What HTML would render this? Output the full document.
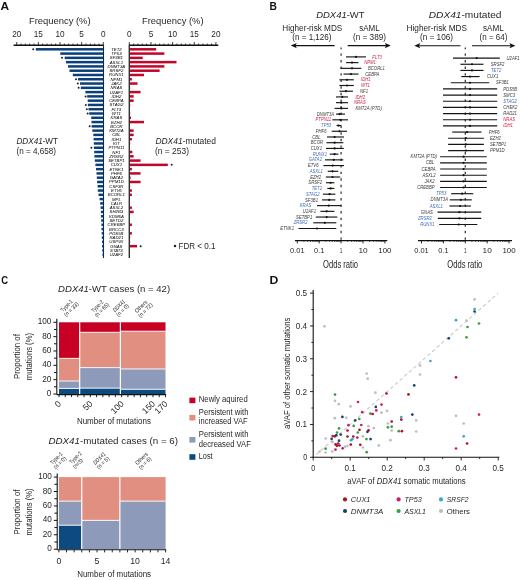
<!DOCTYPE html>
<html><head><meta charset="utf-8"><title>Figure</title>
<style>
html,body{margin:0;padding:0;background:#fff;}
svg{display:block;will-change:transform;}
text{font-family:"Liberation Sans",sans-serif;}
</style></head><body>
<svg width="520" height="580" viewBox="0 0 520 580">
<rect x="0" y="0" width="520" height="580" fill="#fff"/>
<text x="0.40" y="10.30" font-size="11.0" fill="#111" font-weight="bold" textLength="8.60" lengthAdjust="spacingAndGlyphs">A</text>
<text x="29.00" y="24.30" font-size="9.7" fill="#231f20" textLength="61.60" lengthAdjust="spacingAndGlyphs">Frequency (%)</text>
<text x="142.00" y="24.30" font-size="9.7" fill="#231f20" textLength="61.60" lengthAdjust="spacingAndGlyphs">Frequency (%)</text>
<text x="16.70" y="37.40" font-size="8.2" text-anchor="middle" fill="#231f20">20</text>
<text x="38.35" y="37.40" font-size="8.2" text-anchor="middle" fill="#231f20">15</text>
<text x="60.00" y="37.40" font-size="8.2" text-anchor="middle" fill="#231f20">10</text>
<text x="81.65" y="37.40" font-size="8.2" text-anchor="middle" fill="#231f20">5</text>
<text x="103.30" y="37.40" font-size="8.2" text-anchor="middle" fill="#231f20">0</text>
<text x="129.30" y="37.40" font-size="8.2" text-anchor="middle" fill="#231f20">0</text>
<text x="150.95" y="37.40" font-size="8.2" text-anchor="middle" fill="#231f20">5</text>
<text x="172.60" y="37.40" font-size="8.2" text-anchor="middle" fill="#231f20">10</text>
<text x="194.25" y="37.40" font-size="8.2" text-anchor="middle" fill="#231f20">15</text>
<text x="215.90" y="37.40" font-size="8.2" text-anchor="middle" fill="#231f20">20</text>
<line x1="13.60" y1="45.20" x2="103.70" y2="45.20" stroke="#111" stroke-width="1.4" />
<line x1="128.90" y1="45.20" x2="218.30" y2="45.20" stroke="#111" stroke-width="1.4" />
<line x1="103.30" y1="45.20" x2="103.30" y2="42.00" stroke="#111" stroke-width="0.8" />
<line x1="129.30" y1="45.20" x2="129.30" y2="42.00" stroke="#111" stroke-width="0.8" />
<line x1="98.97" y1="45.20" x2="98.97" y2="43.50" stroke="#111" stroke-width="0.8" />
<line x1="133.63" y1="45.20" x2="133.63" y2="43.50" stroke="#111" stroke-width="0.8" />
<line x1="94.64" y1="45.20" x2="94.64" y2="43.50" stroke="#111" stroke-width="0.8" />
<line x1="137.96" y1="45.20" x2="137.96" y2="43.50" stroke="#111" stroke-width="0.8" />
<line x1="90.31" y1="45.20" x2="90.31" y2="43.50" stroke="#111" stroke-width="0.8" />
<line x1="142.29" y1="45.20" x2="142.29" y2="43.50" stroke="#111" stroke-width="0.8" />
<line x1="85.98" y1="45.20" x2="85.98" y2="43.50" stroke="#111" stroke-width="0.8" />
<line x1="146.62" y1="45.20" x2="146.62" y2="43.50" stroke="#111" stroke-width="0.8" />
<line x1="81.65" y1="45.20" x2="81.65" y2="42.00" stroke="#111" stroke-width="0.8" />
<line x1="150.95" y1="45.20" x2="150.95" y2="42.00" stroke="#111" stroke-width="0.8" />
<line x1="77.32" y1="45.20" x2="77.32" y2="43.50" stroke="#111" stroke-width="0.8" />
<line x1="155.28" y1="45.20" x2="155.28" y2="43.50" stroke="#111" stroke-width="0.8" />
<line x1="72.99" y1="45.20" x2="72.99" y2="43.50" stroke="#111" stroke-width="0.8" />
<line x1="159.61" y1="45.20" x2="159.61" y2="43.50" stroke="#111" stroke-width="0.8" />
<line x1="68.66" y1="45.20" x2="68.66" y2="43.50" stroke="#111" stroke-width="0.8" />
<line x1="163.94" y1="45.20" x2="163.94" y2="43.50" stroke="#111" stroke-width="0.8" />
<line x1="64.33" y1="45.20" x2="64.33" y2="43.50" stroke="#111" stroke-width="0.8" />
<line x1="168.27" y1="45.20" x2="168.27" y2="43.50" stroke="#111" stroke-width="0.8" />
<line x1="60.00" y1="45.20" x2="60.00" y2="42.00" stroke="#111" stroke-width="0.8" />
<line x1="172.60" y1="45.20" x2="172.60" y2="42.00" stroke="#111" stroke-width="0.8" />
<line x1="55.67" y1="45.20" x2="55.67" y2="43.50" stroke="#111" stroke-width="0.8" />
<line x1="176.93" y1="45.20" x2="176.93" y2="43.50" stroke="#111" stroke-width="0.8" />
<line x1="51.34" y1="45.20" x2="51.34" y2="43.50" stroke="#111" stroke-width="0.8" />
<line x1="181.26" y1="45.20" x2="181.26" y2="43.50" stroke="#111" stroke-width="0.8" />
<line x1="47.01" y1="45.20" x2="47.01" y2="43.50" stroke="#111" stroke-width="0.8" />
<line x1="185.59" y1="45.20" x2="185.59" y2="43.50" stroke="#111" stroke-width="0.8" />
<line x1="42.68" y1="45.20" x2="42.68" y2="43.50" stroke="#111" stroke-width="0.8" />
<line x1="189.92" y1="45.20" x2="189.92" y2="43.50" stroke="#111" stroke-width="0.8" />
<line x1="38.35" y1="45.20" x2="38.35" y2="42.00" stroke="#111" stroke-width="0.8" />
<line x1="194.25" y1="45.20" x2="194.25" y2="42.00" stroke="#111" stroke-width="0.8" />
<line x1="34.02" y1="45.20" x2="34.02" y2="43.50" stroke="#111" stroke-width="0.8" />
<line x1="198.58" y1="45.20" x2="198.58" y2="43.50" stroke="#111" stroke-width="0.8" />
<line x1="29.69" y1="45.20" x2="29.69" y2="43.50" stroke="#111" stroke-width="0.8" />
<line x1="202.91" y1="45.20" x2="202.91" y2="43.50" stroke="#111" stroke-width="0.8" />
<line x1="25.36" y1="45.20" x2="25.36" y2="43.50" stroke="#111" stroke-width="0.8" />
<line x1="207.24" y1="45.20" x2="207.24" y2="43.50" stroke="#111" stroke-width="0.8" />
<line x1="21.03" y1="45.20" x2="21.03" y2="43.50" stroke="#111" stroke-width="0.8" />
<line x1="211.57" y1="45.20" x2="211.57" y2="43.50" stroke="#111" stroke-width="0.8" />
<line x1="16.70" y1="45.20" x2="16.70" y2="42.00" stroke="#111" stroke-width="0.8" />
<line x1="215.90" y1="45.20" x2="215.90" y2="42.00" stroke="#111" stroke-width="0.8" />
<rect x="35.80" y="48.05" width="67.50" height="2.50" fill="#0b3f7c"/>
<rect x="129.30" y="48.05" width="26.85" height="2.50" fill="#c1062c"/>
<text x="116.40" y="50.80" font-size="4.3" text-anchor="middle" font-style="italic">TET2</text>
<circle cx="33.20" cy="49.30" r="1.0" fill="#222"/>
<rect x="60.30" y="52.33" width="43.00" height="2.50" fill="#0b3f7c"/>
<rect x="129.30" y="52.33" width="35.07" height="2.50" fill="#c1062c"/>
<text x="116.40" y="55.08" font-size="4.3" text-anchor="middle" font-style="italic">TP53</text>
<rect x="64.70" y="56.61" width="38.60" height="2.50" fill="#0b3f7c"/>
<rect x="129.30" y="56.61" width="13.42" height="2.50" fill="#c1062c"/>
<text x="116.40" y="59.36" font-size="4.3" text-anchor="middle" font-style="italic">SF3B1</text>
<circle cx="62.00" cy="57.86" r="1.0" fill="#222"/>
<rect x="66.00" y="60.89" width="37.30" height="2.50" fill="#0b3f7c"/>
<rect x="129.30" y="60.89" width="47.20" height="2.50" fill="#c1062c"/>
<text x="116.40" y="63.64" font-size="4.3" text-anchor="middle" font-style="italic">ASXL1</text>
<rect x="68.00" y="65.17" width="35.30" height="2.50" fill="#0b3f7c"/>
<rect x="129.30" y="65.17" width="35.07" height="2.50" fill="#c1062c"/>
<text x="116.40" y="67.92" font-size="4.3" text-anchor="middle" font-style="italic">DNMT3A</text>
<rect x="69.50" y="69.45" width="33.80" height="2.50" fill="#0b3f7c"/>
<rect x="129.30" y="69.45" width="30.31" height="2.50" fill="#c1062c"/>
<text x="116.40" y="72.20" font-size="4.3" text-anchor="middle" font-style="italic">SRSF2</text>
<rect x="72.80" y="73.73" width="30.50" height="2.50" fill="#0b3f7c"/>
<rect x="129.30" y="73.73" width="14.72" height="2.50" fill="#c1062c"/>
<text x="116.40" y="76.48" font-size="4.3" text-anchor="middle" font-style="italic">RUNX1</text>
<rect x="78.00" y="78.01" width="25.30" height="2.50" fill="#0b3f7c"/>
<rect x="129.30" y="78.01" width="2.60" height="2.50" fill="#c1062c"/>
<text x="116.40" y="80.76" font-size="4.3" text-anchor="middle" font-style="italic">NPM1</text>
<circle cx="76.00" cy="79.26" r="1.0" fill="#222"/>
<rect x="80.00" y="82.29" width="23.30" height="2.50" fill="#0b3f7c"/>
<rect x="129.30" y="82.29" width="8.23" height="2.50" fill="#c1062c"/>
<text x="116.40" y="85.04" font-size="4.3" text-anchor="middle" font-style="italic">JAK2</text>
<circle cx="77.80" cy="83.54" r="1.0" fill="#222"/>
<rect x="80.80" y="86.57" width="22.50" height="2.50" fill="#0b3f7c"/>
<rect x="129.30" y="86.57" width="0.87" height="2.50" fill="#c1062c"/>
<text x="116.40" y="89.32" font-size="4.3" text-anchor="middle" font-style="italic">NRAS</text>
<circle cx="78.60" cy="87.82" r="1.0" fill="#222"/>
<rect x="85.40" y="90.85" width="17.90" height="2.50" fill="#0b3f7c"/>
<rect x="129.30" y="90.85" width="11.26" height="2.50" fill="#c1062c"/>
<text x="116.40" y="93.60" font-size="4.3" text-anchor="middle" font-style="italic">U2AF1</text>
<rect x="87.20" y="95.13" width="16.10" height="2.50" fill="#0b3f7c"/>
<rect x="129.30" y="95.13" width="4.33" height="2.50" fill="#c1062c"/>
<text x="116.40" y="97.88" font-size="4.3" text-anchor="middle" font-style="italic">IDH2</text>
<circle cx="85.60" cy="96.38" r="1.0" fill="#222"/>
<rect x="87.70" y="99.41" width="15.60" height="2.50" fill="#0b3f7c"/>
<rect x="129.30" y="99.41" width="4.33" height="2.50" fill="#c1062c"/>
<text x="116.40" y="102.16" font-size="4.3" text-anchor="middle" font-style="italic">CEBPA</text>
<rect x="87.90" y="103.69" width="15.40" height="2.50" fill="#0b3f7c"/>
<rect x="129.30" y="103.69" width="0.87" height="2.50" fill="#c1062c"/>
<text x="116.40" y="106.44" font-size="4.3" text-anchor="middle" font-style="italic">STAG2</text>
<circle cx="85.80" cy="104.94" r="1.0" fill="#222"/>
<rect x="88.50" y="107.97" width="14.80" height="2.50" fill="#0b3f7c"/>
<text x="116.40" y="110.72" font-size="4.3" text-anchor="middle" font-style="italic">FLT3</text>
<circle cx="86.80" cy="109.22" r="1.0" fill="#222"/>
<rect x="89.20" y="112.25" width="14.10" height="2.50" fill="#0b3f7c"/>
<rect x="129.30" y="112.25" width="0.87" height="2.50" fill="#c1062c"/>
<text x="116.40" y="115.00" font-size="4.3" text-anchor="middle" font-style="italic">WT1</text>
<circle cx="87.60" cy="113.50" r="1.0" fill="#222"/>
<rect x="91.20" y="116.53" width="12.10" height="2.50" fill="#0b3f7c"/>
<rect x="129.30" y="116.53" width="1.73" height="2.50" fill="#c1062c"/>
<text x="116.40" y="119.28" font-size="4.3" text-anchor="middle" font-style="italic">KRAS</text>
<rect x="91.50" y="120.81" width="11.80" height="2.50" fill="#0b3f7c"/>
<rect x="129.30" y="120.81" width="14.72" height="2.50" fill="#c1062c"/>
<text x="116.40" y="123.56" font-size="4.3" text-anchor="middle" font-style="italic">EZH2</text>
<rect x="91.60" y="125.09" width="11.70" height="2.50" fill="#0b3f7c"/>
<rect x="129.30" y="125.09" width="0.43" height="2.50" fill="#c1062c"/>
<text x="116.40" y="127.84" font-size="4.3" text-anchor="middle" font-style="italic">BCOR</text>
<circle cx="89.60" cy="126.34" r="1.0" fill="#222"/>
<rect x="92.30" y="129.37" width="11.00" height="2.50" fill="#0b3f7c"/>
<rect x="129.30" y="129.37" width="4.33" height="2.50" fill="#c1062c"/>
<text x="116.40" y="132.12" font-size="4.3" text-anchor="middle" font-style="italic">KMT2A</text>
<rect x="93.30" y="133.65" width="10.00" height="2.50" fill="#0b3f7c"/>
<rect x="129.30" y="133.65" width="4.33" height="2.50" fill="#c1062c"/>
<text x="116.40" y="136.40" font-size="4.3" text-anchor="middle" font-style="italic">CBL</text>
<rect x="93.60" y="137.93" width="9.70" height="2.50" fill="#0b3f7c"/>
<rect x="129.30" y="137.93" width="2.60" height="2.50" fill="#c1062c"/>
<text x="116.40" y="140.68" font-size="4.3" text-anchor="middle" font-style="italic">IDH1</text>
<rect x="93.80" y="142.21" width="9.50" height="2.50" fill="#0b3f7c"/>
<rect x="129.30" y="142.21" width="0.87" height="2.50" fill="#c1062c"/>
<text x="116.40" y="144.96" font-size="4.3" text-anchor="middle" font-style="italic">KIT</text>
<rect x="93.90" y="146.49" width="9.40" height="2.50" fill="#0b3f7c"/>
<text x="116.40" y="149.24" font-size="4.3" text-anchor="middle" font-style="italic">PTPN11</text>
<circle cx="91.40" cy="147.74" r="1.0" fill="#222"/>
<rect x="94.20" y="150.77" width="9.10" height="2.50" fill="#0b3f7c"/>
<rect x="129.30" y="150.77" width="3.03" height="2.50" fill="#c1062c"/>
<text x="116.40" y="153.52" font-size="4.3" text-anchor="middle" font-style="italic">NF1</text>
<rect x="94.40" y="155.05" width="8.90" height="2.50" fill="#0b3f7c"/>
<rect x="129.30" y="155.05" width="4.33" height="2.50" fill="#c1062c"/>
<text x="116.40" y="157.80" font-size="4.3" text-anchor="middle" font-style="italic">ZRSR2</text>
<rect x="94.80" y="159.33" width="8.50" height="2.50" fill="#0b3f7c"/>
<rect x="129.30" y="159.33" width="11.26" height="2.50" fill="#c1062c"/>
<text x="116.40" y="162.08" font-size="4.3" text-anchor="middle" font-style="italic">SETBP1</text>
<rect x="95.40" y="163.61" width="7.90" height="2.50" fill="#0b3f7c"/>
<rect x="129.30" y="163.61" width="38.54" height="2.50" fill="#c1062c"/>
<text x="116.40" y="166.36" font-size="4.3" text-anchor="middle" font-style="italic">CUX1</text>
<circle cx="171.70" cy="164.86" r="1.0" fill="#222"/>
<rect x="96.00" y="167.89" width="7.30" height="2.50" fill="#0b3f7c"/>
<rect x="129.30" y="167.89" width="2.60" height="2.50" fill="#c1062c"/>
<text x="116.40" y="170.64" font-size="4.3" text-anchor="middle" font-style="italic">ETNK1</text>
<rect x="96.50" y="172.17" width="6.80" height="2.50" fill="#0b3f7c"/>
<rect x="129.30" y="172.17" width="11.26" height="2.50" fill="#c1062c"/>
<text x="116.40" y="174.92" font-size="4.3" text-anchor="middle" font-style="italic">PHF6</text>
<rect x="96.80" y="176.45" width="6.50" height="2.50" fill="#0b3f7c"/>
<rect x="129.30" y="176.45" width="1.30" height="2.50" fill="#c1062c"/>
<text x="116.40" y="179.20" font-size="4.3" text-anchor="middle" font-style="italic">GATA2</text>
<rect x="97.10" y="180.73" width="6.20" height="2.50" fill="#0b3f7c"/>
<rect x="129.30" y="180.73" width="11.26" height="2.50" fill="#c1062c"/>
<text x="116.40" y="183.48" font-size="4.3" text-anchor="middle" font-style="italic">PPM1D</text>
<rect x="97.60" y="185.01" width="5.70" height="2.50" fill="#0b3f7c"/>
<rect x="129.30" y="185.01" width="0.87" height="2.50" fill="#c1062c"/>
<text x="116.40" y="187.76" font-size="4.3" text-anchor="middle" font-style="italic">CSF3R</text>
<rect x="97.80" y="189.29" width="5.50" height="2.50" fill="#0b3f7c"/>
<rect x="129.30" y="189.29" width="2.60" height="2.50" fill="#c1062c"/>
<text x="116.40" y="192.04" font-size="4.3" text-anchor="middle" font-style="italic">ETV6</text>
<rect x="98.50" y="193.57" width="4.80" height="2.50" fill="#0b3f7c"/>
<rect x="129.30" y="193.57" width="2.60" height="2.50" fill="#c1062c"/>
<text x="116.40" y="196.32" font-size="4.3" text-anchor="middle" font-style="italic">BCORL1</text>
<rect x="99.60" y="197.85" width="3.70" height="2.50" fill="#0b3f7c"/>
<text x="116.40" y="200.60" font-size="4.3" text-anchor="middle" font-style="italic">MPL</text>
<rect x="100.20" y="202.13" width="3.10" height="2.50" fill="#0b3f7c"/>
<text x="116.40" y="204.88" font-size="4.3" text-anchor="middle" font-style="italic">CALR</text>
<rect x="100.60" y="206.41" width="2.70" height="2.50" fill="#0b3f7c"/>
<rect x="129.30" y="206.41" width="2.60" height="2.50" fill="#c1062c"/>
<text x="116.40" y="209.16" font-size="4.3" text-anchor="middle" font-style="italic">ASXL2</text>
<rect x="100.90" y="210.69" width="2.40" height="2.50" fill="#0b3f7c"/>
<rect x="129.30" y="210.69" width="4.33" height="2.50" fill="#c1062c"/>
<text x="116.40" y="213.44" font-size="4.3" text-anchor="middle" font-style="italic">SH2B3</text>
<rect x="100.90" y="214.97" width="2.40" height="2.50" fill="#0b3f7c"/>
<text x="116.40" y="217.72" font-size="4.3" text-anchor="middle" font-style="italic">KDM6A</text>
<rect x="101.20" y="219.25" width="2.10" height="2.50" fill="#0b3f7c"/>
<text x="116.40" y="222.00" font-size="4.3" text-anchor="middle" font-style="italic">SETD2</text>
<rect x="101.40" y="223.53" width="1.90" height="2.50" fill="#0b3f7c"/>
<rect x="129.30" y="223.53" width="2.60" height="2.50" fill="#c1062c"/>
<text x="116.40" y="226.28" font-size="4.3" text-anchor="middle" font-style="italic">CREBBP</text>
<rect x="101.50" y="227.81" width="1.80" height="2.50" fill="#0b3f7c"/>
<text x="116.40" y="230.56" font-size="4.3" text-anchor="middle" font-style="italic">BRCC3</text>
<rect x="101.70" y="232.09" width="1.60" height="2.50" fill="#0b3f7c"/>
<rect x="129.30" y="232.09" width="2.60" height="2.50" fill="#c1062c"/>
<text x="116.40" y="234.84" font-size="4.3" text-anchor="middle" font-style="italic">PDS5B</text>
<rect x="101.80" y="236.37" width="1.50" height="2.50" fill="#0b3f7c"/>
<rect x="129.30" y="236.37" width="0.87" height="2.50" fill="#c1062c"/>
<text x="116.40" y="239.12" font-size="4.3" text-anchor="middle" font-style="italic">RAD21</text>
<rect x="102.00" y="240.65" width="1.30" height="2.50" fill="#0b3f7c"/>
<rect x="129.30" y="240.65" width="0.87" height="2.50" fill="#c1062c"/>
<text x="116.40" y="243.40" font-size="4.3" text-anchor="middle" font-style="italic">USP9X</text>
<rect x="102.10" y="244.93" width="1.20" height="2.50" fill="#0b3f7c"/>
<rect x="129.30" y="244.93" width="7.79" height="2.50" fill="#c1062c"/>
<text x="116.40" y="247.68" font-size="4.3" text-anchor="middle" font-style="italic">GNAS</text>
<circle cx="140.70" cy="246.18" r="1.0" fill="#222"/>
<rect x="102.30" y="249.21" width="1.00" height="2.50" fill="#0b3f7c"/>
<text x="116.40" y="251.96" font-size="4.3" text-anchor="middle" font-style="italic">STAT3</text>
<rect x="102.50" y="253.49" width="0.80" height="2.50" fill="#0b3f7c"/>
<text x="116.40" y="256.24" font-size="4.3" text-anchor="middle" font-style="italic">U2AF2</text>
<line x1="103.50" y1="45.20" x2="103.50" y2="258.00" stroke="#0a2a50" stroke-width="1.1" />
<line x1="129.30" y1="45.20" x2="129.30" y2="258.00" stroke="#333" stroke-width="1.4" />
<text x="16.50" y="143.70" font-size="9.0" fill="#231f20" textLength="41.50" lengthAdjust="spacingAndGlyphs"><tspan font-style="italic">DDX41</tspan>-WT</text>
<text x="16.50" y="153.60" font-size="9.0" fill="#231f20" textLength="39.50" lengthAdjust="spacingAndGlyphs">(n = 4,658)</text>
<text x="155.40" y="143.80" font-size="9.0" fill="#231f20" textLength="60.60" lengthAdjust="spacingAndGlyphs"><tspan font-style="italic">DDX41</tspan>-mutated</text>
<text x="155.00" y="153.80" font-size="9.0" fill="#231f20" textLength="34.00" lengthAdjust="spacingAndGlyphs">(n = 253)</text>
<circle cx="175.00" cy="246.00" r="1.25" fill="#222"/>
<text x="178.50" y="249.00" font-size="9.0" fill="#231f20" textLength="37.00" lengthAdjust="spacingAndGlyphs">FDR &lt; 0.1</text>
<text x="269.60" y="10.30" font-size="11.0" fill="#111" font-weight="bold" textLength="7.40" lengthAdjust="spacingAndGlyphs">B</text>
<text x="316.20" y="17.80" font-size="8.8" fill="#231f20" textLength="48.40" lengthAdjust="spacingAndGlyphs"><tspan font-style="italic">DDX41</tspan>-WT</text>
<text x="282.30" y="30.90" font-size="8.5" fill="#231f20" textLength="60.00" lengthAdjust="spacingAndGlyphs">Higher-risk MDS</text>
<text x="292.30" y="40.40" font-size="8.5" fill="#231f20" textLength="39.20" lengthAdjust="spacingAndGlyphs">(n = 1,126)</text>
<text x="359.20" y="30.90" font-size="8.5" fill="#231f20" textLength="20.50" lengthAdjust="spacingAndGlyphs">sAML</text>
<text x="353.00" y="40.40" font-size="8.5" fill="#231f20" textLength="33.00" lengthAdjust="spacingAndGlyphs">(n = 389)</text>
<line x1="334.60" y1="45.60" x2="294.30" y2="45.60" stroke="#111" stroke-width="1.1" />
<path d="M290.80,45.60 L296.80,43.00 L295.40,45.60 L296.80,48.20 Z" fill="#111"/>
<line x1="347.70" y1="45.60" x2="387.30" y2="45.60" stroke="#111" stroke-width="1.1" />
<path d="M390.80,45.60 L384.80,43.00 L386.20,45.60 L384.80,48.20 Z" fill="#111"/>
<text x="428.80" y="18.00" font-size="8.8" fill="#231f20" textLength="72.70" lengthAdjust="spacingAndGlyphs"><tspan font-style="italic">DDX41</tspan>-mutated</text>
<text x="406.50" y="30.90" font-size="8.5" fill="#231f20" textLength="60.50" lengthAdjust="spacingAndGlyphs">Higher-risk MDS</text>
<text x="420.00" y="40.40" font-size="8.5" fill="#231f20" textLength="33.00" lengthAdjust="spacingAndGlyphs">(n = 106)</text>
<text x="483.00" y="30.90" font-size="8.5" fill="#231f20" textLength="20.80" lengthAdjust="spacingAndGlyphs">sAML</text>
<text x="479.60" y="40.40" font-size="8.5" fill="#231f20" textLength="27.70" lengthAdjust="spacingAndGlyphs">(n = 64)</text>
<line x1="460.50" y1="45.70" x2="417.80" y2="45.70" stroke="#111" stroke-width="1.1" />
<path d="M414.30,45.70 L420.30,43.10 L418.90,45.70 L420.30,48.30 Z" fill="#111"/>
<line x1="472.00" y1="45.70" x2="511.90" y2="45.70" stroke="#111" stroke-width="1.1" />
<path d="M515.40,45.70 L509.40,43.10 L510.80,45.70 L509.40,48.30 Z" fill="#111"/>
<line x1="341.10" y1="47.50" x2="341.10" y2="240.50" stroke="#3a3a3a" stroke-width="1.3" stroke-dasharray="2.4 4.17" stroke-dashoffset="0.63"/>
<line x1="346.00" y1="56.90" x2="366.00" y2="56.90" stroke="#151515" stroke-width="1.15" />
<circle cx="356.00" cy="56.90" r="1.1" fill="#111"/>
<text x="372.30" y="58.50" font-size="4.6" fill="#d0203f" font-style="italic" textLength="9.56" lengthAdjust="spacingAndGlyphs">FLT3</text>
<line x1="346.10" y1="62.62" x2="358.50" y2="62.62" stroke="#151515" stroke-width="1.15" />
<circle cx="352.00" cy="62.62" r="1.1" fill="#111"/>
<text x="364.20" y="64.22" font-size="4.6" fill="#d0203f" font-style="italic" textLength="11.76" lengthAdjust="spacingAndGlyphs">NPM1</text>
<line x1="340.60" y1="68.34" x2="361.30" y2="68.34" stroke="#151515" stroke-width="1.15" />
<circle cx="352.00" cy="68.34" r="1.1" fill="#111"/>
<text x="368.00" y="69.94" font-size="4.6" fill="#3a3a3a" font-style="italic" textLength="16.93" lengthAdjust="spacingAndGlyphs">BCORL1</text>
<line x1="343.50" y1="74.06" x2="358.50" y2="74.06" stroke="#151515" stroke-width="1.15" />
<circle cx="351.00" cy="74.06" r="1.1" fill="#111"/>
<text x="365.30" y="75.66" font-size="4.6" fill="#3a3a3a" font-style="italic" textLength="14.03" lengthAdjust="spacingAndGlyphs">CEBPA</text>
<line x1="339.40" y1="79.78" x2="353.80" y2="79.78" stroke="#151515" stroke-width="1.15" />
<circle cx="347.00" cy="79.78" r="1.1" fill="#111"/>
<text x="361.00" y="81.38" font-size="4.6" fill="#d0203f" font-style="italic" textLength="9.64" lengthAdjust="spacingAndGlyphs">IDH1</text>
<line x1="339.40" y1="85.50" x2="353.80" y2="85.50" stroke="#151515" stroke-width="1.15" />
<circle cx="347.00" cy="85.50" r="1.1" fill="#111"/>
<text x="361.00" y="87.10" font-size="4.6" fill="#d0203f" font-style="italic" textLength="8.93" lengthAdjust="spacingAndGlyphs">WT1</text>
<line x1="339.40" y1="91.22" x2="352.90" y2="91.22" stroke="#151515" stroke-width="1.15" />
<circle cx="346.00" cy="91.22" r="1.1" fill="#111"/>
<text x="360.00" y="92.82" font-size="4.6" fill="#3a3a3a" font-style="italic" textLength="7.99" lengthAdjust="spacingAndGlyphs">NF1</text>
<line x1="336.00" y1="96.94" x2="348.00" y2="96.94" stroke="#151515" stroke-width="1.15" />
<circle cx="342.30" cy="96.94" r="1.1" fill="#111"/>
<text x="355.40" y="98.54" font-size="4.6" fill="#d0203f" font-style="italic" textLength="9.64" lengthAdjust="spacingAndGlyphs">IDH2</text>
<line x1="336.00" y1="102.66" x2="348.00" y2="102.66" stroke="#151515" stroke-width="1.15" />
<circle cx="341.30" cy="102.66" r="1.1" fill="#111"/>
<text x="354.00" y="104.26" font-size="4.6" fill="#d0203f" font-style="italic" textLength="11.76" lengthAdjust="spacingAndGlyphs">NRAS</text>
<line x1="334.60" y1="108.38" x2="348.00" y2="108.38" stroke="#151515" stroke-width="1.15" />
<circle cx="341.30" cy="108.38" r="1.1" fill="#111"/>
<text x="355.40" y="109.98" font-size="4.6" fill="#3a3a3a" font-style="italic" textLength="26.41" lengthAdjust="spacingAndGlyphs">KMT2A (PTD)</text>
<line x1="336.00" y1="114.10" x2="345.00" y2="114.10" stroke="#151515" stroke-width="1.15" />
<circle cx="339.40" cy="114.10" r="1.1" fill="#111"/>
<text x="334.20" y="115.70" font-size="4.6" text-anchor="end" fill="#3a3a3a" font-style="italic" textLength="17.40" lengthAdjust="spacingAndGlyphs">DNMT3A</text>
<line x1="332.30" y1="119.82" x2="348.00" y2="119.82" stroke="#151515" stroke-width="1.15" />
<circle cx="340.40" cy="119.82" r="1.1" fill="#111"/>
<text x="331.20" y="121.42" font-size="4.6" text-anchor="end" fill="#d0203f" font-style="italic" textLength="15.68" lengthAdjust="spacingAndGlyphs">PTPN11</text>
<line x1="336.50" y1="125.54" x2="341.30" y2="125.54" stroke="#151515" stroke-width="1.15" />
<circle cx="338.50" cy="125.54" r="1.1" fill="#111"/>
<text x="331.20" y="127.14" font-size="4.6" text-anchor="end" fill="#3e6fb3" font-style="italic" textLength="10.11" lengthAdjust="spacingAndGlyphs">TP53</text>
<line x1="331.70" y1="131.26" x2="347.00" y2="131.26" stroke="#151515" stroke-width="1.15" />
<circle cx="339.40" cy="131.26" r="1.1" fill="#111"/>
<text x="326.50" y="132.86" font-size="4.6" text-anchor="end" fill="#3a3a3a" font-style="italic" textLength="10.82" lengthAdjust="spacingAndGlyphs">PHF6</text>
<line x1="327.00" y1="136.98" x2="344.00" y2="136.98" stroke="#151515" stroke-width="1.15" />
<circle cx="334.60" cy="136.98" r="1.1" fill="#111"/>
<text x="320.50" y="138.58" font-size="4.6" text-anchor="end" fill="#3a3a3a" font-style="italic" textLength="8.23" lengthAdjust="spacingAndGlyphs">CBL</text>
<line x1="326.50" y1="142.70" x2="343.30" y2="142.70" stroke="#151515" stroke-width="1.15" />
<circle cx="334.60" cy="142.70" r="1.1" fill="#111"/>
<text x="323.00" y="144.30" font-size="4.6" text-anchor="end" fill="#3a3a3a" font-style="italic" textLength="12.23" lengthAdjust="spacingAndGlyphs">BCOR</text>
<line x1="326.00" y1="148.42" x2="343.80" y2="148.42" stroke="#151515" stroke-width="1.15" />
<circle cx="334.60" cy="148.42" r="1.1" fill="#111"/>
<text x="322.00" y="150.02" font-size="4.6" text-anchor="end" fill="#3a3a3a" font-style="italic" textLength="11.29" lengthAdjust="spacingAndGlyphs">CUX1</text>
<line x1="329.80" y1="154.14" x2="338.50" y2="154.14" stroke="#151515" stroke-width="1.15" />
<circle cx="334.60" cy="154.14" r="1.1" fill="#111"/>
<text x="327.00" y="155.74" font-size="4.6" text-anchor="end" fill="#3e6fb3" font-style="italic" textLength="14.35" lengthAdjust="spacingAndGlyphs">RUNX1</text>
<line x1="325.00" y1="159.86" x2="343.30" y2="159.86" stroke="#151515" stroke-width="1.15" />
<circle cx="333.70" cy="159.86" r="1.1" fill="#111"/>
<text x="322.00" y="161.46" font-size="4.6" text-anchor="end" fill="#3e6fb3" font-style="italic" textLength="13.25" lengthAdjust="spacingAndGlyphs">GATA2</text>
<line x1="323.50" y1="165.58" x2="344.00" y2="165.58" stroke="#151515" stroke-width="1.15" />
<circle cx="332.70" cy="165.58" r="1.1" fill="#111"/>
<text x="318.50" y="167.18" font-size="4.6" text-anchor="end" fill="#3a3a3a" font-style="italic" textLength="10.58" lengthAdjust="spacingAndGlyphs">ETV6</text>
<line x1="327.70" y1="171.30" x2="338.30" y2="171.30" stroke="#151515" stroke-width="1.15" />
<circle cx="332.50" cy="171.30" r="1.1" fill="#111"/>
<text x="322.90" y="172.90" font-size="4.6" text-anchor="end" fill="#3e6fb3" font-style="italic" textLength="13.18" lengthAdjust="spacingAndGlyphs">ASXL1</text>
<line x1="325.80" y1="177.02" x2="340.20" y2="177.02" stroke="#151515" stroke-width="1.15" />
<circle cx="332.50" cy="177.02" r="1.1" fill="#111"/>
<text x="321.00" y="178.62" font-size="4.6" text-anchor="end" fill="#3a3a3a" font-style="italic" textLength="10.82" lengthAdjust="spacingAndGlyphs">EZH2</text>
<line x1="326.00" y1="182.74" x2="334.40" y2="182.74" stroke="#151515" stroke-width="1.15" />
<circle cx="330.60" cy="182.74" r="1.1" fill="#111"/>
<text x="322.00" y="184.34" font-size="4.6" text-anchor="end" fill="#3a3a3a" font-style="italic" textLength="13.64" lengthAdjust="spacingAndGlyphs">SRSF2</text>
<line x1="327.30" y1="188.46" x2="334.40" y2="188.46" stroke="#151515" stroke-width="1.15" />
<circle cx="330.60" cy="188.46" r="1.1" fill="#111"/>
<text x="322.00" y="190.06" font-size="4.6" text-anchor="end" fill="#3e6fb3" font-style="italic" textLength="10.35" lengthAdjust="spacingAndGlyphs">TET2</text>
<line x1="322.90" y1="194.18" x2="335.40" y2="194.18" stroke="#151515" stroke-width="1.15" />
<circle cx="329.60" cy="194.18" r="1.1" fill="#111"/>
<text x="319.60" y="195.78" font-size="4.6" text-anchor="end" fill="#3e6fb3" font-style="italic" textLength="13.56" lengthAdjust="spacingAndGlyphs">STAG2</text>
<line x1="322.00" y1="199.90" x2="335.40" y2="199.90" stroke="#151515" stroke-width="1.15" />
<circle cx="329.20" cy="199.90" r="1.1" fill="#111"/>
<text x="318.00" y="201.50" font-size="4.6" text-anchor="end" fill="#3a3a3a" font-style="italic" textLength="12.94" lengthAdjust="spacingAndGlyphs">SF3B1</text>
<line x1="317.00" y1="205.62" x2="341.20" y2="205.62" stroke="#151515" stroke-width="1.15" />
<circle cx="328.70" cy="205.62" r="1.1" fill="#111"/>
<text x="311.30" y="207.22" font-size="4.6" text-anchor="end" fill="#3e6fb3" font-style="italic" textLength="11.52" lengthAdjust="spacingAndGlyphs">KRAS</text>
<line x1="320.40" y1="211.34" x2="334.40" y2="211.34" stroke="#151515" stroke-width="1.15" />
<circle cx="326.70" cy="211.34" r="1.1" fill="#111"/>
<text x="316.00" y="212.94" font-size="4.6" text-anchor="end" fill="#3a3a3a" font-style="italic" textLength="13.17" lengthAdjust="spacingAndGlyphs">U2AF1</text>
<line x1="315.80" y1="217.06" x2="337.30" y2="217.06" stroke="#151515" stroke-width="1.15" />
<circle cx="326.70" cy="217.06" r="1.1" fill="#111"/>
<text x="312.30" y="218.66" font-size="4.6" text-anchor="end" fill="#3a3a3a" font-style="italic" textLength="16.23" lengthAdjust="spacingAndGlyphs">SETBP1</text>
<line x1="313.30" y1="222.78" x2="336.30" y2="222.78" stroke="#151515" stroke-width="1.15" />
<circle cx="324.80" cy="222.78" r="1.1" fill="#111"/>
<text x="307.50" y="224.38" font-size="4.6" text-anchor="end" fill="#3e6fb3" font-style="italic" textLength="13.87" lengthAdjust="spacingAndGlyphs">ZRSR2</text>
<line x1="298.50" y1="228.50" x2="336.30" y2="228.50" stroke="#151515" stroke-width="1.15" />
<circle cx="317.00" cy="228.50" r="1.1" fill="#111"/>
<text x="294.00" y="230.10" font-size="4.6" text-anchor="end" fill="#3a3a3a" font-style="italic" textLength="13.64" lengthAdjust="spacingAndGlyphs">ETNK1</text>
<line x1="295.00" y1="240.70" x2="387.30" y2="240.70" stroke="#111" stroke-width="1.3" />
<line x1="297.30" y1="240.60" x2="297.30" y2="243.40" stroke="#111" stroke-width="0.9" />
<line x1="303.89" y1="240.60" x2="303.89" y2="242.00" stroke="#111" stroke-width="0.6" />
<line x1="307.75" y1="240.60" x2="307.75" y2="242.00" stroke="#111" stroke-width="0.6" />
<line x1="310.49" y1="240.60" x2="310.49" y2="242.00" stroke="#111" stroke-width="0.6" />
<line x1="312.61" y1="240.60" x2="312.61" y2="242.00" stroke="#111" stroke-width="0.6" />
<line x1="314.34" y1="240.60" x2="314.34" y2="242.00" stroke="#111" stroke-width="0.6" />
<line x1="315.81" y1="240.60" x2="315.81" y2="242.00" stroke="#111" stroke-width="0.6" />
<line x1="317.08" y1="240.60" x2="317.08" y2="242.00" stroke="#111" stroke-width="0.6" />
<line x1="318.20" y1="240.60" x2="318.20" y2="242.00" stroke="#111" stroke-width="0.6" />
<line x1="319.20" y1="240.60" x2="319.20" y2="243.40" stroke="#111" stroke-width="0.9" />
<line x1="325.79" y1="240.60" x2="325.79" y2="242.00" stroke="#111" stroke-width="0.6" />
<line x1="329.65" y1="240.60" x2="329.65" y2="242.00" stroke="#111" stroke-width="0.6" />
<line x1="332.39" y1="240.60" x2="332.39" y2="242.00" stroke="#111" stroke-width="0.6" />
<line x1="334.51" y1="240.60" x2="334.51" y2="242.00" stroke="#111" stroke-width="0.6" />
<line x1="336.24" y1="240.60" x2="336.24" y2="242.00" stroke="#111" stroke-width="0.6" />
<line x1="337.71" y1="240.60" x2="337.71" y2="242.00" stroke="#111" stroke-width="0.6" />
<line x1="338.98" y1="240.60" x2="338.98" y2="242.00" stroke="#111" stroke-width="0.6" />
<line x1="340.10" y1="240.60" x2="340.10" y2="242.00" stroke="#111" stroke-width="0.6" />
<line x1="341.10" y1="240.60" x2="341.10" y2="243.40" stroke="#111" stroke-width="0.9" />
<line x1="347.69" y1="240.60" x2="347.69" y2="242.00" stroke="#111" stroke-width="0.6" />
<line x1="351.55" y1="240.60" x2="351.55" y2="242.00" stroke="#111" stroke-width="0.6" />
<line x1="354.29" y1="240.60" x2="354.29" y2="242.00" stroke="#111" stroke-width="0.6" />
<line x1="356.41" y1="240.60" x2="356.41" y2="242.00" stroke="#111" stroke-width="0.6" />
<line x1="358.14" y1="240.60" x2="358.14" y2="242.00" stroke="#111" stroke-width="0.6" />
<line x1="359.61" y1="240.60" x2="359.61" y2="242.00" stroke="#111" stroke-width="0.6" />
<line x1="360.88" y1="240.60" x2="360.88" y2="242.00" stroke="#111" stroke-width="0.6" />
<line x1="362.00" y1="240.60" x2="362.00" y2="242.00" stroke="#111" stroke-width="0.6" />
<line x1="363.00" y1="240.60" x2="363.00" y2="243.40" stroke="#111" stroke-width="0.9" />
<line x1="369.59" y1="240.60" x2="369.59" y2="242.00" stroke="#111" stroke-width="0.6" />
<line x1="373.45" y1="240.60" x2="373.45" y2="242.00" stroke="#111" stroke-width="0.6" />
<line x1="376.19" y1="240.60" x2="376.19" y2="242.00" stroke="#111" stroke-width="0.6" />
<line x1="378.31" y1="240.60" x2="378.31" y2="242.00" stroke="#111" stroke-width="0.6" />
<line x1="380.04" y1="240.60" x2="380.04" y2="242.00" stroke="#111" stroke-width="0.6" />
<line x1="381.51" y1="240.60" x2="381.51" y2="242.00" stroke="#111" stroke-width="0.6" />
<line x1="382.78" y1="240.60" x2="382.78" y2="242.00" stroke="#111" stroke-width="0.6" />
<line x1="383.90" y1="240.60" x2="383.90" y2="242.00" stroke="#111" stroke-width="0.6" />
<line x1="384.90" y1="240.60" x2="384.90" y2="243.40" stroke="#111" stroke-width="0.9" />
<text x="297.30" y="253.40" font-size="8.0" text-anchor="middle" fill="#231f20" textLength="14.50" lengthAdjust="spacingAndGlyphs">0.01</text>
<text x="319.20" y="253.40" font-size="8.0" text-anchor="middle" fill="#231f20" textLength="10.30" lengthAdjust="spacingAndGlyphs">0.1</text>
<text x="341.10" y="253.40" font-size="8.0" text-anchor="middle" fill="#231f20" textLength="2.60" lengthAdjust="spacingAndGlyphs">1</text>
<text x="363.00" y="253.40" font-size="8.0" text-anchor="middle" fill="#231f20" textLength="9.20" lengthAdjust="spacingAndGlyphs">10</text>
<text x="384.90" y="253.40" font-size="8.0" text-anchor="middle" fill="#231f20" textLength="13.30" lengthAdjust="spacingAndGlyphs">100</text>
<text x="340.60" y="267.50" font-size="10.2" text-anchor="middle" fill="#231f20" textLength="35.00" lengthAdjust="spacingAndGlyphs">Odds ratio</text>
<line x1="465.30" y1="47.50" x2="465.30" y2="240.50" stroke="#3a3a3a" stroke-width="1.3" stroke-dasharray="2.4 4.17" stroke-dashoffset="0.63"/>
<line x1="453.00" y1="58.10" x2="499.80" y2="58.10" stroke="#151515" stroke-width="1.15" />
<circle cx="476.70" cy="58.10" r="1.1" fill="#111"/>
<text x="506.50" y="59.70" font-size="4.6" fill="#3a3a3a" font-style="italic" textLength="13.17" lengthAdjust="spacingAndGlyphs">U2AF1</text>
<line x1="460.40" y1="64.26" x2="483.50" y2="64.26" stroke="#151515" stroke-width="1.15" />
<circle cx="472.00" cy="64.26" r="1.1" fill="#111"/>
<text x="490.80" y="65.86" font-size="4.6" fill="#3a3a3a" font-style="italic" textLength="13.64" lengthAdjust="spacingAndGlyphs">SRSF2</text>
<line x1="460.40" y1="70.43" x2="483.50" y2="70.43" stroke="#151515" stroke-width="1.15" />
<circle cx="472.00" cy="70.43" r="1.1" fill="#111"/>
<text x="491.00" y="72.03" font-size="4.6" fill="#3e6fb3" font-style="italic" textLength="10.35" lengthAdjust="spacingAndGlyphs">TET2</text>
<line x1="461.30" y1="76.59" x2="479.60" y2="76.59" stroke="#151515" stroke-width="1.15" />
<circle cx="470.00" cy="76.59" r="1.1" fill="#111"/>
<text x="487.00" y="78.19" font-size="4.6" fill="#3a3a3a" font-style="italic" textLength="11.29" lengthAdjust="spacingAndGlyphs">CUX1</text>
<line x1="450.80" y1="82.75" x2="489.20" y2="82.75" stroke="#151515" stroke-width="1.15" />
<circle cx="470.00" cy="82.75" r="1.1" fill="#111"/>
<text x="496.00" y="84.35" font-size="4.6" fill="#3a3a3a" font-style="italic" textLength="12.94" lengthAdjust="spacingAndGlyphs">SF3B1</text>
<line x1="443.00" y1="88.92" x2="497.20" y2="88.92" stroke="#151515" stroke-width="1.15" />
<circle cx="470.00" cy="88.92" r="1.1" fill="#111"/>
<text x="503.30" y="90.52" font-size="4.6" fill="#3a3a3a" font-style="italic" textLength="13.88" lengthAdjust="spacingAndGlyphs">PDS5B</text>
<line x1="443.00" y1="95.08" x2="497.20" y2="95.08" stroke="#151515" stroke-width="1.15" />
<circle cx="470.00" cy="95.08" r="1.1" fill="#111"/>
<text x="503.30" y="96.68" font-size="4.6" fill="#3a3a3a" font-style="italic" textLength="11.76" lengthAdjust="spacingAndGlyphs">SMC3</text>
<line x1="443.00" y1="101.24" x2="497.20" y2="101.24" stroke="#151515" stroke-width="1.15" />
<circle cx="470.00" cy="101.24" r="1.1" fill="#111"/>
<text x="503.30" y="102.84" font-size="4.6" fill="#3e6fb3" font-style="italic" textLength="13.56" lengthAdjust="spacingAndGlyphs">STAG2</text>
<line x1="443.00" y1="107.40" x2="497.20" y2="107.40" stroke="#151515" stroke-width="1.15" />
<circle cx="470.00" cy="107.40" r="1.1" fill="#111"/>
<text x="503.30" y="109.00" font-size="4.6" fill="#3a3a3a" font-style="italic" textLength="14.11" lengthAdjust="spacingAndGlyphs">CHEK2</text>
<line x1="443.00" y1="113.57" x2="497.20" y2="113.57" stroke="#151515" stroke-width="1.15" />
<circle cx="470.00" cy="113.57" r="1.1" fill="#111"/>
<text x="503.30" y="115.17" font-size="4.6" fill="#3a3a3a" font-style="italic" textLength="13.64" lengthAdjust="spacingAndGlyphs">RAD21</text>
<line x1="443.00" y1="119.73" x2="497.20" y2="119.73" stroke="#151515" stroke-width="1.15" />
<circle cx="470.00" cy="119.73" r="1.1" fill="#111"/>
<text x="503.30" y="121.33" font-size="4.6" fill="#d0203f" font-style="italic" textLength="11.76" lengthAdjust="spacingAndGlyphs">NRAS</text>
<line x1="443.00" y1="125.89" x2="497.20" y2="125.89" stroke="#151515" stroke-width="1.15" />
<circle cx="470.00" cy="125.89" r="1.1" fill="#111"/>
<text x="503.30" y="127.49" font-size="4.6" fill="#d0203f" font-style="italic" textLength="9.64" lengthAdjust="spacingAndGlyphs">IDH1</text>
<line x1="452.20" y1="132.06" x2="481.50" y2="132.06" stroke="#151515" stroke-width="1.15" />
<circle cx="467.00" cy="132.06" r="1.1" fill="#111"/>
<text x="488.80" y="133.66" font-size="4.6" fill="#3a3a3a" font-style="italic" textLength="10.82" lengthAdjust="spacingAndGlyphs">PHF6</text>
<line x1="448.10" y1="138.22" x2="483.90" y2="138.22" stroke="#151515" stroke-width="1.15" />
<circle cx="465.80" cy="138.22" r="1.1" fill="#111"/>
<text x="490.00" y="139.82" font-size="4.6" fill="#3a3a3a" font-style="italic" textLength="10.82" lengthAdjust="spacingAndGlyphs">EZH2</text>
<line x1="448.10" y1="144.38" x2="483.90" y2="144.38" stroke="#151515" stroke-width="1.15" />
<circle cx="465.80" cy="144.38" r="1.1" fill="#111"/>
<text x="490.00" y="145.98" font-size="4.6" fill="#3a3a3a" font-style="italic" textLength="16.23" lengthAdjust="spacingAndGlyphs">SETBP1</text>
<line x1="448.10" y1="150.55" x2="483.90" y2="150.55" stroke="#151515" stroke-width="1.15" />
<circle cx="465.80" cy="150.55" r="1.1" fill="#111"/>
<text x="490.00" y="152.15" font-size="4.6" fill="#3a3a3a" font-style="italic" textLength="14.58" lengthAdjust="spacingAndGlyphs">PPM1D</text>
<line x1="440.10" y1="156.71" x2="486.80" y2="156.71" stroke="#151515" stroke-width="1.15" />
<circle cx="463.60" cy="156.71" r="1.1" fill="#111"/>
<text x="437.00" y="158.31" font-size="4.6" text-anchor="end" fill="#3a3a3a" font-style="italic" textLength="26.41" lengthAdjust="spacingAndGlyphs">KMT2A (PTD)</text>
<line x1="440.10" y1="162.87" x2="486.80" y2="162.87" stroke="#151515" stroke-width="1.15" />
<circle cx="463.60" cy="162.87" r="1.1" fill="#111"/>
<text x="434.20" y="164.47" font-size="4.6" text-anchor="end" fill="#3a3a3a" font-style="italic" textLength="8.23" lengthAdjust="spacingAndGlyphs">CBL</text>
<line x1="440.10" y1="169.03" x2="486.80" y2="169.03" stroke="#151515" stroke-width="1.15" />
<circle cx="463.60" cy="169.03" r="1.1" fill="#111"/>
<text x="435.60" y="170.63" font-size="4.6" text-anchor="end" fill="#3a3a3a" font-style="italic" textLength="14.03" lengthAdjust="spacingAndGlyphs">CEBPA</text>
<line x1="440.10" y1="175.20" x2="486.80" y2="175.20" stroke="#151515" stroke-width="1.15" />
<circle cx="463.60" cy="175.20" r="1.1" fill="#111"/>
<text x="435.60" y="176.80" font-size="4.6" text-anchor="end" fill="#3a3a3a" font-style="italic" textLength="13.18" lengthAdjust="spacingAndGlyphs">ASXL2</text>
<line x1="440.10" y1="181.36" x2="486.80" y2="181.36" stroke="#151515" stroke-width="1.15" />
<circle cx="463.60" cy="181.36" r="1.1" fill="#111"/>
<text x="434.60" y="182.96" font-size="4.6" text-anchor="end" fill="#3a3a3a" font-style="italic" textLength="10.12" lengthAdjust="spacingAndGlyphs">JAK2</text>
<line x1="440.10" y1="187.52" x2="486.80" y2="187.52" stroke="#151515" stroke-width="1.15" />
<circle cx="463.60" cy="187.52" r="1.1" fill="#111"/>
<text x="434.60" y="189.12" font-size="4.6" text-anchor="end" fill="#3a3a3a" font-style="italic" textLength="17.40" lengthAdjust="spacingAndGlyphs">CREBBP</text>
<line x1="451.20" y1="193.69" x2="473.20" y2="193.69" stroke="#151515" stroke-width="1.15" />
<circle cx="462.20" cy="193.69" r="1.1" fill="#111"/>
<text x="446.30" y="195.29" font-size="4.6" text-anchor="end" fill="#3e6fb3" font-style="italic" textLength="10.11" lengthAdjust="spacingAndGlyphs">TP53</text>
<line x1="449.80" y1="199.85" x2="471.80" y2="199.85" stroke="#151515" stroke-width="1.15" />
<circle cx="460.80" cy="199.85" r="1.1" fill="#111"/>
<text x="448.00" y="201.45" font-size="4.6" text-anchor="end" fill="#3a3a3a" font-style="italic" textLength="17.40" lengthAdjust="spacingAndGlyphs">DNMT3A</text>
<line x1="449.40" y1="206.01" x2="470.90" y2="206.01" stroke="#151515" stroke-width="1.15" />
<circle cx="460.10" cy="206.01" r="1.1" fill="#111"/>
<text x="442.90" y="207.61" font-size="4.6" text-anchor="end" fill="#3e6fb3" font-style="italic" textLength="13.18" lengthAdjust="spacingAndGlyphs">ASXL1</text>
<line x1="437.50" y1="212.18" x2="481.20" y2="212.18" stroke="#151515" stroke-width="1.15" />
<circle cx="459.40" cy="212.18" r="1.1" fill="#111"/>
<text x="432.80" y="213.78" font-size="4.6" text-anchor="end" fill="#3a3a3a" font-style="italic" textLength="11.99" lengthAdjust="spacingAndGlyphs">GNAS</text>
<line x1="437.80" y1="218.34" x2="481.20" y2="218.34" stroke="#151515" stroke-width="1.15" />
<circle cx="459.40" cy="218.34" r="1.1" fill="#111"/>
<text x="431.90" y="219.94" font-size="4.6" text-anchor="end" fill="#3e6fb3" font-style="italic" textLength="13.87" lengthAdjust="spacingAndGlyphs">ZRSR2</text>
<line x1="439.20" y1="224.50" x2="477.30" y2="224.50" stroke="#151515" stroke-width="1.15" />
<circle cx="458.70" cy="224.50" r="1.1" fill="#111"/>
<text x="434.60" y="226.10" font-size="4.6" text-anchor="end" fill="#3e6fb3" font-style="italic" textLength="14.35" lengthAdjust="spacingAndGlyphs">RUNX1</text>
<line x1="418.00" y1="240.70" x2="512.00" y2="240.70" stroke="#111" stroke-width="1.3" />
<line x1="421.50" y1="240.60" x2="421.50" y2="243.40" stroke="#111" stroke-width="0.9" />
<line x1="428.09" y1="240.60" x2="428.09" y2="242.00" stroke="#111" stroke-width="0.6" />
<line x1="431.95" y1="240.60" x2="431.95" y2="242.00" stroke="#111" stroke-width="0.6" />
<line x1="434.69" y1="240.60" x2="434.69" y2="242.00" stroke="#111" stroke-width="0.6" />
<line x1="436.81" y1="240.60" x2="436.81" y2="242.00" stroke="#111" stroke-width="0.6" />
<line x1="438.54" y1="240.60" x2="438.54" y2="242.00" stroke="#111" stroke-width="0.6" />
<line x1="440.01" y1="240.60" x2="440.01" y2="242.00" stroke="#111" stroke-width="0.6" />
<line x1="441.28" y1="240.60" x2="441.28" y2="242.00" stroke="#111" stroke-width="0.6" />
<line x1="442.40" y1="240.60" x2="442.40" y2="242.00" stroke="#111" stroke-width="0.6" />
<line x1="443.40" y1="240.60" x2="443.40" y2="243.40" stroke="#111" stroke-width="0.9" />
<line x1="449.99" y1="240.60" x2="449.99" y2="242.00" stroke="#111" stroke-width="0.6" />
<line x1="453.85" y1="240.60" x2="453.85" y2="242.00" stroke="#111" stroke-width="0.6" />
<line x1="456.59" y1="240.60" x2="456.59" y2="242.00" stroke="#111" stroke-width="0.6" />
<line x1="458.71" y1="240.60" x2="458.71" y2="242.00" stroke="#111" stroke-width="0.6" />
<line x1="460.44" y1="240.60" x2="460.44" y2="242.00" stroke="#111" stroke-width="0.6" />
<line x1="461.91" y1="240.60" x2="461.91" y2="242.00" stroke="#111" stroke-width="0.6" />
<line x1="463.18" y1="240.60" x2="463.18" y2="242.00" stroke="#111" stroke-width="0.6" />
<line x1="464.30" y1="240.60" x2="464.30" y2="242.00" stroke="#111" stroke-width="0.6" />
<line x1="465.30" y1="240.60" x2="465.30" y2="243.40" stroke="#111" stroke-width="0.9" />
<line x1="471.89" y1="240.60" x2="471.89" y2="242.00" stroke="#111" stroke-width="0.6" />
<line x1="475.75" y1="240.60" x2="475.75" y2="242.00" stroke="#111" stroke-width="0.6" />
<line x1="478.49" y1="240.60" x2="478.49" y2="242.00" stroke="#111" stroke-width="0.6" />
<line x1="480.61" y1="240.60" x2="480.61" y2="242.00" stroke="#111" stroke-width="0.6" />
<line x1="482.34" y1="240.60" x2="482.34" y2="242.00" stroke="#111" stroke-width="0.6" />
<line x1="483.81" y1="240.60" x2="483.81" y2="242.00" stroke="#111" stroke-width="0.6" />
<line x1="485.08" y1="240.60" x2="485.08" y2="242.00" stroke="#111" stroke-width="0.6" />
<line x1="486.20" y1="240.60" x2="486.20" y2="242.00" stroke="#111" stroke-width="0.6" />
<line x1="487.20" y1="240.60" x2="487.20" y2="243.40" stroke="#111" stroke-width="0.9" />
<line x1="493.79" y1="240.60" x2="493.79" y2="242.00" stroke="#111" stroke-width="0.6" />
<line x1="497.65" y1="240.60" x2="497.65" y2="242.00" stroke="#111" stroke-width="0.6" />
<line x1="500.39" y1="240.60" x2="500.39" y2="242.00" stroke="#111" stroke-width="0.6" />
<line x1="502.51" y1="240.60" x2="502.51" y2="242.00" stroke="#111" stroke-width="0.6" />
<line x1="504.24" y1="240.60" x2="504.24" y2="242.00" stroke="#111" stroke-width="0.6" />
<line x1="505.71" y1="240.60" x2="505.71" y2="242.00" stroke="#111" stroke-width="0.6" />
<line x1="506.98" y1="240.60" x2="506.98" y2="242.00" stroke="#111" stroke-width="0.6" />
<line x1="508.10" y1="240.60" x2="508.10" y2="242.00" stroke="#111" stroke-width="0.6" />
<line x1="509.10" y1="240.60" x2="509.10" y2="243.40" stroke="#111" stroke-width="0.9" />
<text x="421.50" y="253.40" font-size="8.0" text-anchor="middle" fill="#231f20" textLength="14.50" lengthAdjust="spacingAndGlyphs">0.01</text>
<text x="443.40" y="253.40" font-size="8.0" text-anchor="middle" fill="#231f20" textLength="10.30" lengthAdjust="spacingAndGlyphs">0.1</text>
<text x="465.30" y="253.40" font-size="8.0" text-anchor="middle" fill="#231f20" textLength="2.60" lengthAdjust="spacingAndGlyphs">1</text>
<text x="487.20" y="253.40" font-size="8.0" text-anchor="middle" fill="#231f20" textLength="9.20" lengthAdjust="spacingAndGlyphs">10</text>
<text x="509.10" y="253.40" font-size="8.0" text-anchor="middle" fill="#231f20" textLength="13.30" lengthAdjust="spacingAndGlyphs">100</text>
<text x="464.80" y="267.50" font-size="10.2" text-anchor="middle" fill="#231f20" textLength="35.00" lengthAdjust="spacingAndGlyphs">Odds ratio</text>
<text x="1.20" y="283.90" font-size="11.0" fill="#111" font-weight="bold" textLength="6.80" lengthAdjust="spacingAndGlyphs">C</text>
<text x="58.10" y="292.00" font-size="8.8" fill="#231f20" textLength="112.00" lengthAdjust="spacingAndGlyphs"><tspan font-style="italic">DDX41</tspan>-WT cases (n = 42)</text>
<rect x="59.00" y="388.41" width="20.67" height="5.59" fill="#0d4a80"/>
<rect x="59.00" y="381.02" width="20.67" height="7.39" fill="#8d9aba"/>
<rect x="59.00" y="358.37" width="20.67" height="22.66" fill="#e18f80"/>
<rect x="59.00" y="322.30" width="20.67" height="36.07" fill="#c70024"/>
<line x1="59.00" y1="388.41" x2="79.67" y2="388.41" stroke="#fff" stroke-width="0.9" />
<line x1="59.00" y1="381.02" x2="79.67" y2="381.02" stroke="#fff" stroke-width="0.9" />
<line x1="59.00" y1="358.37" x2="79.67" y2="358.37" stroke="#fff" stroke-width="0.9" />
<rect x="79.67" y="388.12" width="40.72" height="5.88" fill="#0d4a80"/>
<rect x="79.67" y="367.61" width="40.72" height="20.51" fill="#8d9aba"/>
<rect x="79.67" y="332.30" width="40.72" height="35.31" fill="#e18f80"/>
<rect x="79.67" y="322.30" width="40.72" height="10.00" fill="#c70024"/>
<line x1="79.67" y1="388.12" x2="120.39" y2="388.12" stroke="#fff" stroke-width="0.9" />
<line x1="79.67" y1="367.61" x2="120.39" y2="367.61" stroke="#fff" stroke-width="0.9" />
<line x1="79.67" y1="332.30" x2="120.39" y2="332.30" stroke="#fff" stroke-width="0.9" />
<rect x="120.39" y="389.27" width="45.11" height="4.73" fill="#0d4a80"/>
<rect x="120.39" y="368.98" width="45.11" height="20.29" fill="#8d9aba"/>
<rect x="120.39" y="331.19" width="45.11" height="37.79" fill="#e18f80"/>
<rect x="120.39" y="322.30" width="45.11" height="8.89" fill="#c70024"/>
<line x1="120.39" y1="389.27" x2="165.50" y2="389.27" stroke="#fff" stroke-width="0.9" />
<line x1="120.39" y1="368.98" x2="165.50" y2="368.98" stroke="#fff" stroke-width="0.9" />
<line x1="120.39" y1="331.19" x2="165.50" y2="331.19" stroke="#fff" stroke-width="0.9" />
<line x1="79.67" y1="322.30" x2="79.67" y2="394.00" stroke="#fff" stroke-width="1.2" />
<line x1="120.39" y1="322.30" x2="120.39" y2="394.00" stroke="#fff" stroke-width="1.2" />
<line x1="56.80" y1="318.70" x2="56.80" y2="394.60" stroke="#111" stroke-width="1.1" />
<line x1="53.40" y1="394.00" x2="56.80" y2="394.00" stroke="#111" stroke-width="1.0" />
<text x="51.40" y="396.00" font-size="8.2" text-anchor="end" fill="#231f20">0</text>
<line x1="54.00" y1="386.83" x2="56.80" y2="386.83" stroke="#111" stroke-width="1.0" />
<line x1="53.40" y1="379.66" x2="56.80" y2="379.66" stroke="#111" stroke-width="1.0" />
<text x="51.40" y="381.66" font-size="8.2" text-anchor="end" fill="#231f20">20</text>
<line x1="54.00" y1="372.49" x2="56.80" y2="372.49" stroke="#111" stroke-width="1.0" />
<line x1="53.40" y1="365.32" x2="56.80" y2="365.32" stroke="#111" stroke-width="1.0" />
<text x="51.40" y="367.32" font-size="8.2" text-anchor="end" fill="#231f20">40</text>
<line x1="54.00" y1="358.15" x2="56.80" y2="358.15" stroke="#111" stroke-width="1.0" />
<line x1="53.40" y1="350.98" x2="56.80" y2="350.98" stroke="#111" stroke-width="1.0" />
<text x="51.40" y="352.98" font-size="8.2" text-anchor="end" fill="#231f20">60</text>
<line x1="54.00" y1="343.81" x2="56.80" y2="343.81" stroke="#111" stroke-width="1.0" />
<line x1="53.40" y1="336.64" x2="56.80" y2="336.64" stroke="#111" stroke-width="1.0" />
<text x="51.40" y="338.64" font-size="8.2" text-anchor="end" fill="#231f20">80</text>
<line x1="54.00" y1="329.47" x2="56.80" y2="329.47" stroke="#111" stroke-width="1.0" />
<line x1="53.40" y1="322.30" x2="56.80" y2="322.30" stroke="#111" stroke-width="1.0" />
<text x="51.40" y="324.30" font-size="8.2" text-anchor="end" fill="#231f20">100</text>
<line x1="56.80" y1="394.60" x2="166.10" y2="394.60" stroke="#111" stroke-width="1.1" />
<line x1="59.00" y1="394.60" x2="59.00" y2="397.20" stroke="#111" stroke-width="0.9" />
<line x1="65.26" y1="394.60" x2="65.26" y2="397.20" stroke="#111" stroke-width="0.9" />
<line x1="71.53" y1="394.60" x2="71.53" y2="397.20" stroke="#111" stroke-width="0.9" />
<line x1="77.79" y1="394.60" x2="77.79" y2="397.20" stroke="#111" stroke-width="0.9" />
<line x1="84.06" y1="394.60" x2="84.06" y2="397.20" stroke="#111" stroke-width="0.9" />
<line x1="90.32" y1="394.60" x2="90.32" y2="397.20" stroke="#111" stroke-width="0.9" />
<line x1="96.59" y1="394.60" x2="96.59" y2="397.20" stroke="#111" stroke-width="0.9" />
<line x1="102.85" y1="394.60" x2="102.85" y2="397.20" stroke="#111" stroke-width="0.9" />
<line x1="109.12" y1="394.60" x2="109.12" y2="397.20" stroke="#111" stroke-width="0.9" />
<line x1="115.38" y1="394.60" x2="115.38" y2="397.20" stroke="#111" stroke-width="0.9" />
<line x1="121.65" y1="394.60" x2="121.65" y2="397.20" stroke="#111" stroke-width="0.9" />
<line x1="127.91" y1="394.60" x2="127.91" y2="397.20" stroke="#111" stroke-width="0.9" />
<line x1="134.18" y1="394.60" x2="134.18" y2="397.20" stroke="#111" stroke-width="0.9" />
<line x1="140.44" y1="394.60" x2="140.44" y2="397.20" stroke="#111" stroke-width="0.9" />
<line x1="146.71" y1="394.60" x2="146.71" y2="397.20" stroke="#111" stroke-width="0.9" />
<line x1="152.97" y1="394.60" x2="152.97" y2="397.20" stroke="#111" stroke-width="0.9" />
<line x1="159.24" y1="394.60" x2="159.24" y2="397.20" stroke="#111" stroke-width="0.9" />
<line x1="165.50" y1="394.60" x2="165.50" y2="397.20" stroke="#111" stroke-width="0.9" />
<text x="61.70" y="404.30" font-size="8.6" text-anchor="end" fill="#231f20" transform="rotate(-45 61.70 404.30)">0</text>
<text x="93.02" y="404.30" font-size="8.6" text-anchor="end" fill="#231f20" transform="rotate(-45 93.02 404.30)">50</text>
<text x="124.35" y="404.30" font-size="8.6" text-anchor="end" fill="#231f20" transform="rotate(-45 124.35 404.30)">100</text>
<text x="155.67" y="404.30" font-size="8.6" text-anchor="end" fill="#231f20" transform="rotate(-45 155.67 404.30)">150</text>
<text x="168.20" y="404.30" font-size="8.6" text-anchor="end" fill="#231f20" transform="rotate(-45 168.20 404.30)">170</text>
<text x="76.90" y="424.20" font-size="9.6" fill="#231f20" textLength="74.00" lengthAdjust="spacingAndGlyphs">Number of mutations</text>
<g transform="translate(66.30 317.00) rotate(-45)">
<text x="0.85" y="-5.8" font-size="5.8" fill="#231f20" textLength="14.80" lengthAdjust="spacingAndGlyphs">Type-1</text>
<text x="0" y="0" font-size="5.8" fill="#231f20" textLength="17.80" lengthAdjust="spacingAndGlyphs">(n = 33)</text>
</g>
<g transform="translate(96.90 317.60) rotate(-45)">
<text x="0.85" y="-5.8" font-size="5.8" fill="#231f20" textLength="14.80" lengthAdjust="spacingAndGlyphs">Type-2</text>
<text x="0" y="0" font-size="5.8" fill="#231f20" textLength="17.80" lengthAdjust="spacingAndGlyphs">(n = 65)</text>
</g>
<g transform="translate(118.60 317.00) rotate(-45)">
<text x="0.85" y="-5.8" font-size="5.8" fill="#231f20" textLength="14.80" lengthAdjust="spacingAndGlyphs"><tspan font-style="italic">DDX41</tspan></text>
<text x="0" y="0" font-size="5.8" fill="#231f20" textLength="15.20" lengthAdjust="spacingAndGlyphs">(n = 0)</text>
</g>
<g transform="translate(140.50 318.00) rotate(-45)">
<text x="0.85" y="-5.8" font-size="5.8" fill="#231f20" textLength="15.20" lengthAdjust="spacingAndGlyphs">Others</text>
<text x="0" y="0" font-size="5.8" fill="#231f20" textLength="17.80" lengthAdjust="spacingAndGlyphs">(n = 72)</text>
</g>
<text x="19.70" y="356.60" font-size="9.3" text-anchor="middle" fill="#231f20" textLength="44.80" lengthAdjust="spacingAndGlyphs" transform="rotate(-90 19.70 356.60)">Proportion of</text>
<text x="32.00" y="356.60" font-size="9.3" text-anchor="middle" fill="#231f20" textLength="47.20" lengthAdjust="spacingAndGlyphs" transform="rotate(-90 32.00 356.60)">mutations (%)</text>
<text x="19.70" y="512.00" font-size="9.3" text-anchor="middle" fill="#231f20" textLength="44.80" lengthAdjust="spacingAndGlyphs" transform="rotate(-90 19.70 512.00)">Proportion of</text>
<text x="32.00" y="512.00" font-size="9.3" text-anchor="middle" fill="#231f20" textLength="47.20" lengthAdjust="spacingAndGlyphs" transform="rotate(-90 32.00 512.00)">mutations (%)</text>
<rect x="189.40" y="397.60" width="6.00" height="5.60" fill="#c70024"/>
<text x="198.80" y="402.40" font-size="8.4" fill="#231f20" textLength="48.90" lengthAdjust="spacingAndGlyphs">Newly aquired</text>
<rect x="189.40" y="414.90" width="6.00" height="5.60" fill="#e18f80"/>
<text x="198.80" y="415.00" font-size="8.4" fill="#231f20" textLength="49.60" lengthAdjust="spacingAndGlyphs">Persistent with</text>
<text x="198.80" y="424.30" font-size="8.4" fill="#231f20" textLength="48.90" lengthAdjust="spacingAndGlyphs">increased VAF</text>
<rect x="189.40" y="437.00" width="6.00" height="5.60" fill="#8d9aba"/>
<text x="198.80" y="437.10" font-size="8.4" fill="#231f20" textLength="49.60" lengthAdjust="spacingAndGlyphs">Persistent with</text>
<text x="198.80" y="446.60" font-size="8.4" fill="#231f20" textLength="52.00" lengthAdjust="spacingAndGlyphs">decreased VAF</text>
<rect x="189.40" y="454.20" width="6.00" height="5.60" fill="#0d4a80"/>
<text x="198.80" y="459.20" font-size="8.4" fill="#231f20" textLength="13.80" lengthAdjust="spacingAndGlyphs">Lost</text>
<text x="48.50" y="444.30" font-size="8.8" fill="#231f20" textLength="129.50" lengthAdjust="spacingAndGlyphs"><tspan font-style="italic">DDX41</tspan>-mutated cases (n = 6)</text>
<rect x="58.90" y="525.19" width="22.86" height="24.01" fill="#0d4a80"/>
<rect x="58.90" y="501.11" width="22.86" height="24.08" fill="#8d9aba"/>
<rect x="58.90" y="477.10" width="22.86" height="24.01" fill="#e18f80"/>
<line x1="58.90" y1="525.19" x2="81.76" y2="525.19" stroke="#fff" stroke-width="0.9" />
<line x1="58.90" y1="501.11" x2="81.76" y2="501.11" stroke="#fff" stroke-width="0.9" />
<rect x="81.76" y="520.36" width="38.11" height="28.84" fill="#8d9aba"/>
<rect x="81.76" y="477.10" width="38.11" height="43.26" fill="#e18f80"/>
<line x1="81.76" y1="520.36" x2="119.87" y2="520.36" stroke="#fff" stroke-width="0.9" />
<rect x="119.87" y="501.11" width="45.73" height="48.09" fill="#8d9aba"/>
<rect x="119.87" y="477.10" width="45.73" height="24.01" fill="#e18f80"/>
<line x1="119.87" y1="501.11" x2="165.60" y2="501.11" stroke="#fff" stroke-width="0.9" />
<line x1="81.76" y1="477.10" x2="81.76" y2="549.20" stroke="#fff" stroke-width="1.2" />
<line x1="119.87" y1="477.10" x2="119.87" y2="549.20" stroke="#fff" stroke-width="1.2" />
<line x1="57.20" y1="473.50" x2="57.20" y2="549.80" stroke="#111" stroke-width="1.1" />
<line x1="53.80" y1="549.20" x2="57.20" y2="549.20" stroke="#111" stroke-width="1.0" />
<text x="51.80" y="551.20" font-size="8.2" text-anchor="end" fill="#231f20">0</text>
<line x1="54.40" y1="541.99" x2="57.20" y2="541.99" stroke="#111" stroke-width="1.0" />
<line x1="53.80" y1="534.78" x2="57.20" y2="534.78" stroke="#111" stroke-width="1.0" />
<text x="51.80" y="536.78" font-size="8.2" text-anchor="end" fill="#231f20">20</text>
<line x1="54.40" y1="527.57" x2="57.20" y2="527.57" stroke="#111" stroke-width="1.0" />
<line x1="53.80" y1="520.36" x2="57.20" y2="520.36" stroke="#111" stroke-width="1.0" />
<text x="51.80" y="522.36" font-size="8.2" text-anchor="end" fill="#231f20">40</text>
<line x1="54.40" y1="513.15" x2="57.20" y2="513.15" stroke="#111" stroke-width="1.0" />
<line x1="53.80" y1="505.94" x2="57.20" y2="505.94" stroke="#111" stroke-width="1.0" />
<text x="51.80" y="507.94" font-size="8.2" text-anchor="end" fill="#231f20">60</text>
<line x1="54.40" y1="498.73" x2="57.20" y2="498.73" stroke="#111" stroke-width="1.0" />
<line x1="53.80" y1="491.52" x2="57.20" y2="491.52" stroke="#111" stroke-width="1.0" />
<text x="51.80" y="493.52" font-size="8.2" text-anchor="end" fill="#231f20">80</text>
<line x1="54.40" y1="484.31" x2="57.20" y2="484.31" stroke="#111" stroke-width="1.0" />
<line x1="53.80" y1="477.10" x2="57.20" y2="477.10" stroke="#111" stroke-width="1.0" />
<text x="51.80" y="479.10" font-size="8.2" text-anchor="end" fill="#231f20">100</text>
<line x1="57.20" y1="549.80" x2="166.20" y2="549.80" stroke="#111" stroke-width="1.1" />
<line x1="58.90" y1="549.80" x2="58.90" y2="552.40" stroke="#111" stroke-width="0.9" />
<line x1="66.52" y1="549.80" x2="66.52" y2="552.40" stroke="#111" stroke-width="0.9" />
<line x1="74.14" y1="549.80" x2="74.14" y2="552.40" stroke="#111" stroke-width="0.9" />
<line x1="81.76" y1="549.80" x2="81.76" y2="552.40" stroke="#111" stroke-width="0.9" />
<line x1="89.39" y1="549.80" x2="89.39" y2="552.40" stroke="#111" stroke-width="0.9" />
<line x1="97.01" y1="549.80" x2="97.01" y2="552.40" stroke="#111" stroke-width="0.9" />
<line x1="104.63" y1="549.80" x2="104.63" y2="552.40" stroke="#111" stroke-width="0.9" />
<line x1="112.25" y1="549.80" x2="112.25" y2="552.40" stroke="#111" stroke-width="0.9" />
<line x1="119.87" y1="549.80" x2="119.87" y2="552.40" stroke="#111" stroke-width="0.9" />
<line x1="127.49" y1="549.80" x2="127.49" y2="552.40" stroke="#111" stroke-width="0.9" />
<line x1="135.11" y1="549.80" x2="135.11" y2="552.40" stroke="#111" stroke-width="0.9" />
<line x1="142.74" y1="549.80" x2="142.74" y2="552.40" stroke="#111" stroke-width="0.9" />
<line x1="150.36" y1="549.80" x2="150.36" y2="552.40" stroke="#111" stroke-width="0.9" />
<line x1="157.98" y1="549.80" x2="157.98" y2="552.40" stroke="#111" stroke-width="0.9" />
<line x1="165.60" y1="549.80" x2="165.60" y2="552.40" stroke="#111" stroke-width="0.9" />
<text x="58.90" y="563.50" font-size="8.7" text-anchor="middle" fill="#231f20">0</text>
<text x="97.01" y="563.50" font-size="8.7" text-anchor="middle" fill="#231f20">5</text>
<text x="135.11" y="563.50" font-size="8.7" text-anchor="middle" fill="#231f20">10</text>
<text x="165.60" y="563.50" font-size="8.7" text-anchor="middle" fill="#231f20">14</text>
<text x="77.20" y="577.40" font-size="9.6" fill="#231f20" textLength="73.90" lengthAdjust="spacingAndGlyphs">Number of mutations</text>
<g transform="translate(55.90 469.60) rotate(-45)">
<text x="0.85" y="-5.8" font-size="5.8" fill="#231f20" textLength="14.80" lengthAdjust="spacingAndGlyphs">Type-1</text>
<text x="0" y="0" font-size="5.8" fill="#231f20" textLength="15.20" lengthAdjust="spacingAndGlyphs">(n = 0)</text>
</g>
<g transform="translate(75.10 469.00) rotate(-45)">
<text x="0.85" y="-5.8" font-size="5.8" fill="#231f20" textLength="14.80" lengthAdjust="spacingAndGlyphs">Type-2</text>
<text x="0" y="0" font-size="5.8" fill="#231f20" textLength="11.50" lengthAdjust="spacingAndGlyphs">(n=3)</text>
</g>
<g transform="translate(99.00 469.60) rotate(-45)">
<text x="0.85" y="-5.8" font-size="5.8" fill="#231f20" textLength="14.80" lengthAdjust="spacingAndGlyphs"><tspan font-style="italic">DDX41</tspan></text>
<text x="0" y="0" font-size="5.8" fill="#231f20" textLength="15.20" lengthAdjust="spacingAndGlyphs">(n = 5)</text>
</g>
<g transform="translate(141.00 469.90) rotate(-45)">
<text x="0.85" y="-5.8" font-size="5.8" fill="#231f20" textLength="15.20" lengthAdjust="spacingAndGlyphs">Others</text>
<text x="0" y="0" font-size="5.8" fill="#231f20" textLength="15.20" lengthAdjust="spacingAndGlyphs">(n = 6)</text>
</g>
<text x="269.50" y="283.90" font-size="11.0" fill="#111" font-weight="bold" textLength="8.80" lengthAdjust="spacingAndGlyphs">D</text>
<line x1="316.20" y1="454.64" x2="498.20" y2="293.10" stroke="#cccccc" stroke-width="1.15" stroke-dasharray="3.6 2.6"/>
<line x1="313.20" y1="290.00" x2="313.20" y2="457.80" stroke="#111" stroke-width="1.1" />
<line x1="312.70" y1="457.30" x2="499.40" y2="457.30" stroke="#111" stroke-width="1.1" />
<line x1="310.00" y1="457.30" x2="313.20" y2="457.30" stroke="#111" stroke-width="0.9" />
<line x1="313.20" y1="457.30" x2="313.20" y2="460.50" stroke="#111" stroke-width="0.9" />
<line x1="311.40" y1="440.88" x2="313.20" y2="440.88" stroke="#111" stroke-width="0.9" />
<line x1="331.70" y1="457.30" x2="331.70" y2="459.10" stroke="#111" stroke-width="0.9" />
<line x1="310.00" y1="424.46" x2="313.20" y2="424.46" stroke="#111" stroke-width="0.9" />
<line x1="350.20" y1="457.30" x2="350.20" y2="460.50" stroke="#111" stroke-width="0.9" />
<line x1="311.40" y1="408.04" x2="313.20" y2="408.04" stroke="#111" stroke-width="0.9" />
<line x1="368.70" y1="457.30" x2="368.70" y2="459.10" stroke="#111" stroke-width="0.9" />
<line x1="310.00" y1="391.62" x2="313.20" y2="391.62" stroke="#111" stroke-width="0.9" />
<line x1="387.20" y1="457.30" x2="387.20" y2="460.50" stroke="#111" stroke-width="0.9" />
<line x1="311.40" y1="375.20" x2="313.20" y2="375.20" stroke="#111" stroke-width="0.9" />
<line x1="405.70" y1="457.30" x2="405.70" y2="459.10" stroke="#111" stroke-width="0.9" />
<line x1="310.00" y1="358.78" x2="313.20" y2="358.78" stroke="#111" stroke-width="0.9" />
<line x1="424.20" y1="457.30" x2="424.20" y2="460.50" stroke="#111" stroke-width="0.9" />
<line x1="311.40" y1="342.36" x2="313.20" y2="342.36" stroke="#111" stroke-width="0.9" />
<line x1="442.70" y1="457.30" x2="442.70" y2="459.10" stroke="#111" stroke-width="0.9" />
<line x1="310.00" y1="325.94" x2="313.20" y2="325.94" stroke="#111" stroke-width="0.9" />
<line x1="461.20" y1="457.30" x2="461.20" y2="460.50" stroke="#111" stroke-width="0.9" />
<line x1="311.40" y1="309.52" x2="313.20" y2="309.52" stroke="#111" stroke-width="0.9" />
<line x1="479.70" y1="457.30" x2="479.70" y2="459.10" stroke="#111" stroke-width="0.9" />
<line x1="310.00" y1="293.10" x2="313.20" y2="293.10" stroke="#111" stroke-width="0.9" />
<line x1="498.20" y1="457.30" x2="498.20" y2="460.50" stroke="#111" stroke-width="0.9" />
<text x="307.10" y="460.30" font-size="9.0" text-anchor="end" fill="#231f20" textLength="3.90" lengthAdjust="spacingAndGlyphs">0</text>
<text x="313.20" y="470.50" font-size="8.8" text-anchor="middle" fill="#231f20" textLength="3.90" lengthAdjust="spacingAndGlyphs">0</text>
<text x="307.10" y="427.46" font-size="9.0" text-anchor="end" fill="#231f20" textLength="11.30" lengthAdjust="spacingAndGlyphs">0.1</text>
<text x="350.20" y="470.50" font-size="8.8" text-anchor="middle" fill="#231f20" textLength="11.30" lengthAdjust="spacingAndGlyphs">0.1</text>
<text x="307.10" y="394.62" font-size="9.0" text-anchor="end" fill="#231f20" textLength="11.30" lengthAdjust="spacingAndGlyphs">0.2</text>
<text x="387.20" y="470.50" font-size="8.8" text-anchor="middle" fill="#231f20" textLength="11.30" lengthAdjust="spacingAndGlyphs">0.2</text>
<text x="307.10" y="361.78" font-size="9.0" text-anchor="end" fill="#231f20" textLength="11.30" lengthAdjust="spacingAndGlyphs">0.3</text>
<text x="424.20" y="470.50" font-size="8.8" text-anchor="middle" fill="#231f20" textLength="11.30" lengthAdjust="spacingAndGlyphs">0.3</text>
<text x="307.10" y="328.94" font-size="9.0" text-anchor="end" fill="#231f20" textLength="11.30" lengthAdjust="spacingAndGlyphs">0.4</text>
<text x="461.20" y="470.50" font-size="8.8" text-anchor="middle" fill="#231f20" textLength="11.30" lengthAdjust="spacingAndGlyphs">0.4</text>
<text x="307.10" y="296.10" font-size="9.0" text-anchor="end" fill="#231f20" textLength="11.30" lengthAdjust="spacingAndGlyphs">0.5</text>
<text x="498.20" y="470.50" font-size="8.8" text-anchor="middle" fill="#231f20" textLength="11.30" lengthAdjust="spacingAndGlyphs">0.5</text>
<text x="290.40" y="373.40" font-size="9.5" text-anchor="middle" fill="#231f20" textLength="111.40" lengthAdjust="spacingAndGlyphs" transform="rotate(-90 290.40 373.40)">aVAF of other somatic mutations</text>
<text x="347.30" y="484.30" font-size="9.2" fill="#231f20" textLength="118.30" lengthAdjust="spacingAndGlyphs">aVAF of <tspan font-style="italic">DDX41</tspan> somatic mutations</text>
<circle cx="324.40" cy="326.30" r="1.35" fill="#bdbdbd"/>
<circle cx="474.60" cy="299.40" r="1.35" fill="#bdbdbd"/>
<circle cx="474.60" cy="309.00" r="1.35" fill="#3aa8c8"/>
<circle cx="474.60" cy="311.50" r="1.35" fill="#1a4268"/>
<circle cx="456.00" cy="320.20" r="1.35" fill="#3aa8c8"/>
<circle cx="466.50" cy="320.60" r="1.35" fill="#bdbdbd"/>
<circle cx="479.00" cy="323.50" r="1.35" fill="#3d9a45"/>
<circle cx="467.50" cy="327.00" r="1.35" fill="#3d9a45"/>
<circle cx="448.80" cy="338.30" r="1.35" fill="#1a4268"/>
<circle cx="466.50" cy="337.30" r="1.35" fill="#3d9a45"/>
<circle cx="430.40" cy="361.00" r="1.35" fill="#3aa8c8"/>
<circle cx="420.00" cy="365.40" r="1.35" fill="#bdbdbd"/>
<circle cx="420.00" cy="374.50" r="1.35" fill="#bdbdbd"/>
<circle cx="366.70" cy="373.50" r="1.35" fill="#bdbdbd"/>
<circle cx="367.70" cy="378.70" r="1.35" fill="#bdbdbd"/>
<circle cx="335.00" cy="394.60" r="1.35" fill="#3d9a45"/>
<circle cx="335.00" cy="400.80" r="1.35" fill="#bdbdbd"/>
<circle cx="338.80" cy="404.20" r="1.35" fill="#bdbdbd"/>
<circle cx="375.40" cy="392.70" r="1.35" fill="#bdbdbd"/>
<circle cx="386.50" cy="393.50" r="1.35" fill="#a8142e"/>
<circle cx="408.50" cy="394.40" r="1.35" fill="#a8142e"/>
<circle cx="358.00" cy="402.00" r="1.35" fill="#c81f66"/>
<circle cx="350.60" cy="406.40" r="1.35" fill="#bdbdbd"/>
<circle cx="381.50" cy="404.60" r="1.35" fill="#c81f66"/>
<circle cx="375.80" cy="406.90" r="1.35" fill="#1a4268"/>
<circle cx="376.30" cy="410.40" r="1.35" fill="#c81f66"/>
<circle cx="387.00" cy="410.80" r="1.35" fill="#bdbdbd"/>
<circle cx="362.20" cy="412.20" r="1.35" fill="#c81f66"/>
<circle cx="370.30" cy="413.60" r="1.35" fill="#3d9a45"/>
<circle cx="372.60" cy="414.00" r="1.35" fill="#a8142e"/>
<circle cx="381.50" cy="412.70" r="1.35" fill="#bdbdbd"/>
<circle cx="342.40" cy="416.90" r="1.35" fill="#1a4268"/>
<circle cx="334.80" cy="418.20" r="1.35" fill="#bdbdbd"/>
<circle cx="346.30" cy="417.80" r="1.35" fill="#bdbdbd"/>
<circle cx="355.20" cy="420.40" r="1.35" fill="#1a4268"/>
<circle cx="359.30" cy="419.00" r="1.35" fill="#3d9a45"/>
<circle cx="401.30" cy="417.10" r="1.35" fill="#3aa8c8"/>
<circle cx="401.30" cy="419.60" r="1.35" fill="#a8142e"/>
<circle cx="391.70" cy="421.50" r="1.35" fill="#a8142e"/>
<circle cx="387.90" cy="423.50" r="1.35" fill="#bdbdbd"/>
<circle cx="348.50" cy="425.20" r="1.35" fill="#c81f66"/>
<circle cx="353.70" cy="425.90" r="1.35" fill="#3d9a45"/>
<circle cx="361.30" cy="425.00" r="1.35" fill="#c81f66"/>
<circle cx="339.00" cy="428.40" r="1.35" fill="#3d9a45"/>
<circle cx="373.80" cy="428.00" r="1.35" fill="#bdbdbd"/>
<circle cx="387.90" cy="427.30" r="1.35" fill="#3d9a45"/>
<circle cx="391.70" cy="426.70" r="1.35" fill="#3d9a45"/>
<circle cx="368.40" cy="426.20" r="1.35" fill="#bdbdbd"/>
<circle cx="347.50" cy="430.50" r="1.35" fill="#a8142e"/>
<circle cx="359.50" cy="429.80" r="1.35" fill="#a8142e"/>
<circle cx="357.80" cy="432.50" r="1.35" fill="#3d9a45"/>
<circle cx="367.40" cy="431.80" r="1.35" fill="#1a4268"/>
<circle cx="368.50" cy="430.40" r="1.35" fill="#a8142e"/>
<circle cx="398.80" cy="431.20" r="1.35" fill="#3d9a45"/>
<circle cx="401.90" cy="431.20" r="1.35" fill="#a8142e"/>
<circle cx="391.70" cy="430.60" r="1.35" fill="#bdbdbd"/>
<circle cx="340.70" cy="434.60" r="1.35" fill="#1a4268"/>
<circle cx="337.10" cy="432.50" r="1.35" fill="#3d9a45"/>
<circle cx="332.60" cy="436.10" r="1.35" fill="#c81f66"/>
<circle cx="334.60" cy="436.30" r="1.35" fill="#a8142e"/>
<circle cx="336.30" cy="435.20" r="1.35" fill="#1a4268"/>
<circle cx="331.60" cy="438.80" r="1.35" fill="#1a4268"/>
<circle cx="325.70" cy="438.50" r="1.35" fill="#bdbdbd"/>
<circle cx="347.50" cy="436.50" r="1.35" fill="#a8142e"/>
<circle cx="353.30" cy="436.50" r="1.35" fill="#a8142e"/>
<circle cx="357.30" cy="437.60" r="1.35" fill="#c81f66"/>
<circle cx="362.90" cy="436.30" r="1.35" fill="#bdbdbd"/>
<circle cx="339.00" cy="440.70" r="1.35" fill="#1a4268"/>
<circle cx="351.00" cy="440.20" r="1.35" fill="#3aa8c8"/>
<circle cx="352.50" cy="439.10" r="1.35" fill="#3aa8c8"/>
<circle cx="366.40" cy="439.10" r="1.35" fill="#3d9a45"/>
<circle cx="370.60" cy="439.10" r="1.35" fill="#1a4268"/>
<circle cx="335.60" cy="444.40" r="1.35" fill="#a8142e"/>
<circle cx="338.20" cy="443.50" r="1.35" fill="#a8142e"/>
<circle cx="339.50" cy="445.50" r="1.35" fill="#a8142e"/>
<circle cx="336.90" cy="445.80" r="1.35" fill="#a8142e"/>
<circle cx="350.80" cy="444.60" r="1.35" fill="#a8142e"/>
<circle cx="360.30" cy="444.80" r="1.35" fill="#a8142e"/>
<circle cx="332.50" cy="442.10" r="1.35" fill="#bdbdbd"/>
<circle cx="342.70" cy="448.30" r="1.35" fill="#c81f66"/>
<circle cx="345.10" cy="446.70" r="1.35" fill="#bdbdbd"/>
<circle cx="362.90" cy="447.50" r="1.35" fill="#bdbdbd"/>
<circle cx="325.60" cy="448.70" r="1.35" fill="#3d9a45"/>
<circle cx="335.50" cy="449.60" r="1.35" fill="#c81f66"/>
<circle cx="332.30" cy="451.50" r="1.35" fill="#bdbdbd"/>
<circle cx="325.60" cy="452.50" r="1.35" fill="#bdbdbd"/>
<circle cx="366.70" cy="452.20" r="1.35" fill="#3d9a45"/>
<circle cx="319.60" cy="451.50" r="1.35" fill="#bdbdbd"/>
<circle cx="378.80" cy="445.40" r="1.35" fill="#bdbdbd"/>
<circle cx="390.40" cy="440.20" r="1.35" fill="#bdbdbd"/>
<circle cx="347.50" cy="446.00" r="1.35" fill="#bdbdbd"/>
<circle cx="456.00" cy="377.30" r="1.35" fill="#a8142e"/>
<circle cx="414.20" cy="385.40" r="1.35" fill="#1a4268"/>
<circle cx="412.30" cy="414.60" r="1.35" fill="#1a4268"/>
<circle cx="416.20" cy="420.40" r="1.35" fill="#bdbdbd"/>
<circle cx="416.20" cy="431.50" r="1.35" fill="#bdbdbd"/>
<circle cx="456.00" cy="415.80" r="1.35" fill="#bdbdbd"/>
<circle cx="479.00" cy="414.60" r="1.35" fill="#c81f66"/>
<circle cx="463.70" cy="423.50" r="1.35" fill="#bdbdbd"/>
<circle cx="463.70" cy="436.30" r="1.35" fill="#3aa8c8"/>
<circle cx="467.10" cy="443.50" r="1.35" fill="#a8142e"/>
<circle cx="456.00" cy="448.50" r="1.35" fill="#c81f66"/>
<circle cx="345.00" cy="499.40" r="2.1" fill="#a8142e"/>
<text x="350.80" y="502.10" font-size="7.6" fill="#231f20" font-style="italic" textLength="19.60" lengthAdjust="spacingAndGlyphs">CUX1</text>
<circle cx="398.60" cy="499.40" r="2.1" fill="#c81f66"/>
<text x="404.40" y="502.10" font-size="7.6" fill="#231f20" font-style="italic" textLength="17.30" lengthAdjust="spacingAndGlyphs">TP53</text>
<circle cx="441.00" cy="499.40" r="2.1" fill="#3aa8c8"/>
<text x="446.80" y="502.10" font-size="7.6" fill="#231f20" font-style="italic" textLength="21.70" lengthAdjust="spacingAndGlyphs">SRSF2</text>
<circle cx="345.00" cy="511.00" r="2.1" fill="#1a4268"/>
<text x="350.80" y="513.70" font-size="7.6" fill="#231f20" font-style="italic" textLength="32.60" lengthAdjust="spacingAndGlyphs">DNMT3A</text>
<circle cx="398.60" cy="511.00" r="2.1" fill="#3d9a45"/>
<text x="404.40" y="513.70" font-size="7.6" fill="#231f20" font-style="italic" textLength="21.60" lengthAdjust="spacingAndGlyphs">ASXL1</text>
<circle cx="441.00" cy="511.00" r="2.1" fill="#bdbdbd"/>
<text x="446.80" y="513.70" font-size="7.6" fill="#231f20" textLength="23.20" lengthAdjust="spacingAndGlyphs">Others</text>
</svg>
</body></html>
